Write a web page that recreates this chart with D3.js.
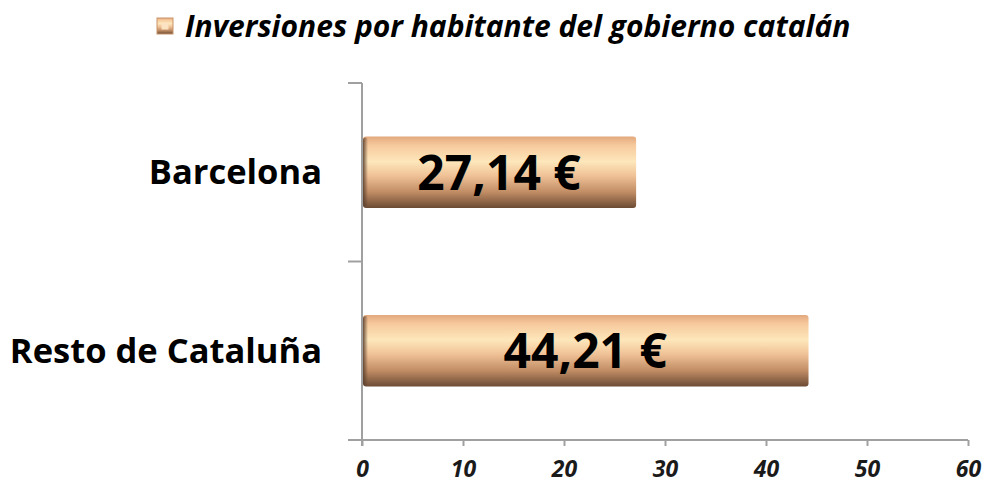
<!DOCTYPE html>
<html>
<head>
<meta charset="utf-8">
<script src="https://cdn.jsdelivr.net/npm/d3@7"></script>
<style>
  body { margin: 0; background: #fff; }
  text { font-family: "Open Sans", sans-serif; }
</style>
</head>
<body>
<div id="chart"></div>
<script>
// Data
const categories = ["Barcelona", "Resto de Cataluña"];
const values = [27.14, 44.21];
const valueLabels = ["27,14 €", "44,21 €"];
const xTicks = [0, 10, 20, 30, 40, 50, 60];
const seriesName = "Inversiones por habitante del gobierno catalán";

// Size
const W = 986, H = 484;
const margin = { top: 83, right: 18, bottom: 44, left: 362 };
const width = W - margin.left - margin.right;
const height = H - margin.top - margin.bottom;

const svg = d3.select("#chart").append("svg")
  .attr("width", W)
  .attr("height", H);

// gradients for the cylinder look
const defs = svg.append("defs");
const grad = defs.append("linearGradient")
  .attr("id", "barGrad")
  .attr("x1", 0).attr("y1", 0).attr("x2", 0).attr("y2", 1);
[
  ["0%", "#e3a87e"], ["12%", "#f6c99c"], ["35%", "#fde7bb"], ["55%", "#f0c196"],
  ["78%", "#c08c64"], ["100%", "#6c4b34"]
].forEach(s => grad.append("stop").attr("offset", s[0]).attr("stop-color", s[1]));

const capGrad = defs.append("linearGradient")
  .attr("id", "capGrad")
  .attr("x1", 0).attr("y1", 0).attr("x2", 1).attr("y2", 0);
capGrad.append("stop").attr("offset", "0%").attr("stop-color", "#5a3f2c").attr("stop-opacity", 0.9);
capGrad.append("stop").attr("offset", "100%").attr("stop-color", "#5a3f2c").attr("stop-opacity", 0);

// Scales
const x = d3.scaleLinear().domain([0, 60]).range([0, width]);
const y = d3.scaleBand().domain(categories).range([0, height]).paddingInner(0.6).paddingOuter(0.3);

const g = svg.append("g").attr("transform", `translate(${margin.left},${margin.top})`);

// axes
const xAxis = g.append("g")
  .attr("transform", `translate(0,${height})`)
  .call(d3.axisBottom(x).tickValues(xTicks).tickSize(6).tickPadding(15));
xAxis.select(".domain").attr("stroke", "#a0a0a0").attr("stroke-width", 2)
  .attr("d", `M-14,0H${width}`);
xAxis.selectAll(".tick line").attr("stroke", "#a0a0a0").attr("stroke-width", 2);
xAxis.selectAll(".tick text")
  .attr("fill", "#1a1a1a")
  .style("font-size", "23px")
  .style("font-weight", "bold")
  .style("font-style", "italic");

// y axis: ticks at band edges
const yEdges = [0, height / 2, height];
g.append("line")
  .attr("x1", 0).attr("x2", 0).attr("y1", 0).attr("y2", height + 6)
  .attr("stroke", "#a0a0a0").attr("stroke-width", 2);
g.selectAll(".ytick").data(yEdges).enter().append("line")
  .attr("class", "ytick")
  .attr("x1", -14).attr("x2", 0)
  .attr("y1", d => d).attr("y2", d => d)
  .attr("stroke", "#a0a0a0").attr("stroke-width", 2);

// category labels
g.selectAll(".cat").data(categories).enter().append("text")
  .attr("class", "cat")
  .attr("x", -40)
  .attr("y", d => y(d) + y.bandwidth() / 2)
  .attr("dy", "0.35em")
  .attr("text-anchor", "end")
  .style("font-size", "34.5px")
  .style("font-weight", "bold")
  .attr("fill", "#000")
  .text(d => d);

// bars
const bars = g.selectAll(".bar").data(values).enter().append("g").attr("class", "bar");
bars.append("rect")
  .attr("x", 1)
  .attr("y", (d, i) => y(categories[i]))
  .attr("width", d => x(d) - 1)
  .attr("height", y.bandwidth())
  .attr("rx", 3)
  .attr("fill", "url(#barGrad)");
bars.append("rect")
  .attr("x", 1)
  .attr("y", (d, i) => y(categories[i]) + 1)
  .attr("width", 5)
  .attr("height", y.bandwidth() - 2)
  .attr("rx", 3)
  .attr("fill", "url(#capGrad)");

bars.append("text")
  .attr("x", d => x(d) / 2)
  .attr("y", (d, i) => y(categories[i]) + y.bandwidth() / 2)
  .attr("dy", "0.36em")
  .attr("text-anchor", "middle")
  .style("font-size", "48px")
  .style("font-weight", "bold")
  .attr("fill", "#000")
  .text((d, i) => valueLabels[i]);

// legend
const legend = svg.append("g").attr("transform", "translate(157,18)");
legend.append("rect")
  .attr("width", 16).attr("height", 16)
  .attr("fill", "url(#barGrad)")
  .attr("stroke", "#c9946a").attr("stroke-width", 1);
legend.append("rect")
  .attr("x", 4.5).attr("y", 4.5).attr("width", 7).attr("height", 7)
  .attr("fill", "#fbe2c2");
legend.append("text")
  .attr("x", 28).attr("y", 8)
  .attr("dy", "0.35em")
  .style("font-size", "30px")
  .style("font-weight", "bold")
  .style("font-style", "italic")
  .attr("fill", "#000")
  .text(seriesName);
</script>
</body>
</html>
